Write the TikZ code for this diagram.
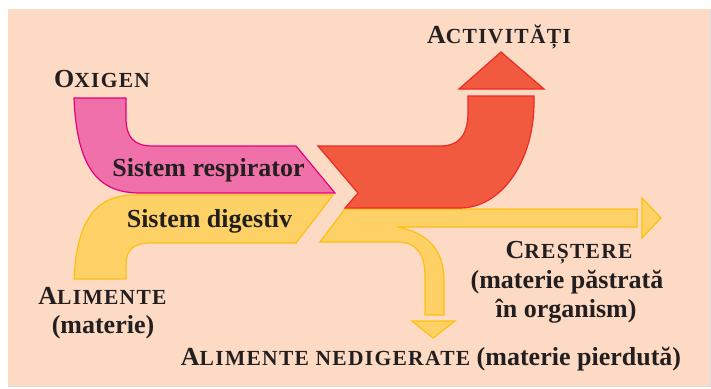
\documentclass[tikz,border=0pt]{standalone}
\usepackage{fontspec}
\setmainfont{Liberation Serif}
\newfontfamily\scf{Liberation Serif}[LetterSpace=6]
\definecolor{peach}{HTML}{FDDAC4}
\definecolor{pinkf}{HTML}{F071A9}
\definecolor{pinkd}{HTML}{E5007D}
\definecolor{yelf}{HTML}{FED166}
\definecolor{yeld}{HTML}{FDC010}
\definecolor{redf}{HTML}{F15A3F}
\definecolor{redd}{HTML}{EE2A24}
\definecolor{ink}{HTML}{231F20}
\newcommand\SCap[2]{{\scf\bfseries\fontsize{26}{30}\selectfont #1\fontsize{21.5}{30}\selectfont #2}}
\tikzset{
  pinkshape/.style={fill=pinkf,draw=pinkd,line width=1.2pt,line join=miter},
  yelshape/.style={fill=yelf,draw=yeld,line width=1.2pt,line join=miter},
  redshape/.style={fill=redf,draw=redd,line width=1.2pt,line join=miter},
  lbl/.style={inner sep=0pt,anchor=base,text=ink,font=\bfseries\fontsize{26}{30}\selectfont}
}
\begin{document}
\begin{tikzpicture}[x=1pt,y=-1pt]
\useasboundingbox (0,0) rectangle (711,388);
% background
\fill[peach] (8,9) rectangle (710,386);
\draw[black!13,line width=1pt] (8,386.5) -- (710.5,386.5) -- (710.5,9);
% respiratory (pink)
\path[pinkshape] (74,98) -- (126,98) -- (126,118)
  .. controls (126,137) and (134,146) .. (152,146) -- (296,146) -- (335,193)
  -- (140,193) .. controls (98,193) and (77,168) .. (74,98) -- cycle;
% digestive (yellow, left)
\path[yelshape] (74,279) -- (126,279) -- (126,264)
  .. controls (126,250) and (134,243) .. (150,243) -- (296,243) -- (333,195)
  -- (135,195) .. controls (97,195) and (77,218) .. (74,279) -- cycle;
% growth / waste (yellow, right)
\path[yelshape] (345,209) -- (637,209) -- (637,227) -- (397,227)
  .. controls (427,232) and (444,250) .. (444,280) -- (444,315) -- (425,315)
  -- (425,276) .. controls (425,255) and (417,242) .. (398,242) -- (320,242) -- cycle;
\path[yelshape] (642,198) -- (661,218) -- (642,238) -- cycle;
\path[yelshape] (412,321) -- (455,321) -- (433,338) -- cycle;
% activities (red)
\path[redshape] (318,146) -- (440,146) .. controls (460,146) and (468,134) .. (468,112)
  -- (468,96) -- (534,96) -- (534,102)
  .. controls (534,162) and (501,208) .. (460,208) -- (345,208) -- (358,193) -- cycle;
\path[redshape] (459,89) -- (544,89) -- (501,52) -- cycle;
% labels
\node[lbl] (oxigen) at (102,87) {\SCap{O}{XIGEN}};
\node[lbl] (resp) at (208.5,176) {Sistem respirator};
\node[lbl] (dig) at (209.5,227) {Sistem digestiv};
\node[lbl] (activ) at (499,43) {\SCap{A}{CTIVITĂȚI}};
\node[lbl] (cres1) at (569,258) {\SCap{C}{REȘTERE}};
\node[lbl] (cres2) at (567,288) {(materie păstrată};
\node[lbl] (cres3) at (566,317) {în organism)};
\node[lbl] (alim1) at (102.5,304) {\SCap{A}{LIMENTE}};
\node[lbl] (alim2) at (103,333) {(materie)};
\node[lbl] (nedig) at (431,365) {\SCap{A}{LIMENTE NEDIGERATE} (materie pierdută)};
\end{tikzpicture}
\end{document}
